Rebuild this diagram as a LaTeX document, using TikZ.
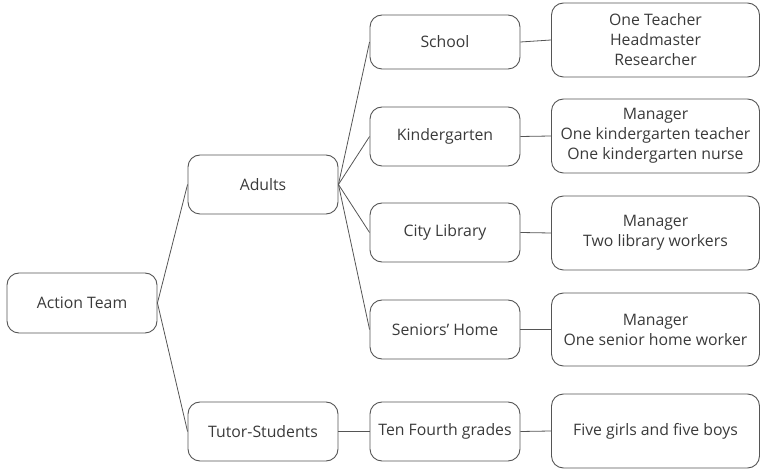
\documentclass[tikz,border=0pt]{standalone}
\usepackage{fontspec}
\setmainfont{Open Sans}
\definecolor{edge}{HTML}{555555}
\definecolor{txt}{HTML}{3A3A3A}
\begin{document}
\begin{tikzpicture}[x=1pt,y=-1pt,
  box/.style={draw=edge, line width=0.9pt, rounded corners=12pt, minimum width=150pt, minimum height=59pt, inner sep=0pt, align=center, text=txt, font=\fontsize{15.8}{20}\selectfont},
  wbox/.style={box, minimum width=208pt, minimum height=74pt},
  conn/.style={draw=edge, line width=0.8pt}]
\useasboundingbox (0,0) rectangle (761,470);
\node[box, minimum height=60pt] (team) at (82,303) {Action Team};
\node[box] (adults) at (263,184.5) {Adults};
\node[box] (tutor) at (263,431.5) {Tutor-Students};
\node[box, minimum height=54pt] (school) at (445,42) {School};
\node[box] (kinder) at (445,136.5) {Kindergarten};
\node[box] (library) at (445,232.5) {City Library};
\node[box] (seniors) at (445,329.5) {Seniors’ Home};
\node[box] (tenth) at (445,431.5) {Ten Fourth grades};
\node[wbox] (schoolR) at (655.5,40) {One Teacher\\Headmaster\\Researcher};
\node[wbox] (kinderR) at (655.5,136) {Manager\\One kindergarten teacher\\One kindergarten nurse};
\node[wbox] (libraryR) at (655.5,233) {Manager\\Two library workers};
\node[wbox, minimum height=73pt] (seniorsR) at (655.5,329.5) {Manager\\One senior home worker};
\node[wbox] (tenthR) at (655.5,431) {Five girls and five boys};
\draw[conn] (team.east) -- (adults.west);
\draw[conn] (team.east) -- (tutor.west);
\draw[conn] (adults.east) -- (school.west);
\draw[conn] (adults.east) -- (kinder.west);
\draw[conn] (adults.east) -- (library.west);
\draw[conn] (adults.east) -- (seniors.west);
\draw[conn] (tutor.east) -- (tenth.west);
\draw[conn] (school.east) -- (schoolR.west);
\draw[conn] (kinder.east) -- (kinderR.west);
\draw[conn] (library.east) -- (libraryR.west);
\draw[conn] (seniors.east) -- (seniorsR.west);
\draw[conn] (tenth.east) -- (tenthR.west);
\end{tikzpicture}
\end{document}
